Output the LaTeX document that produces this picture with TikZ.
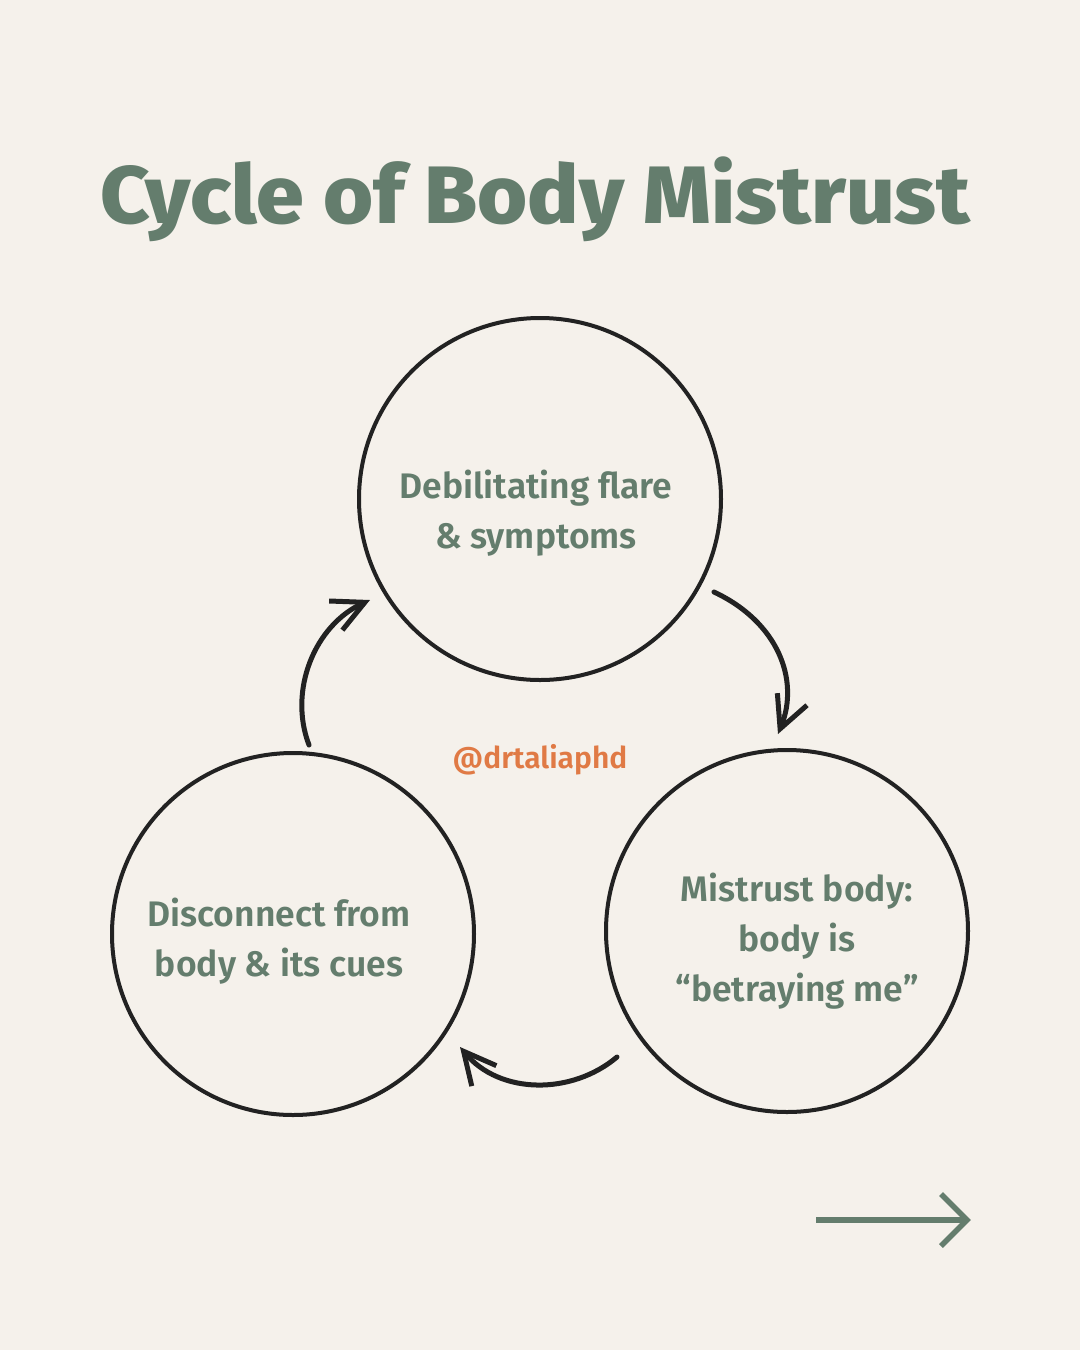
\documentclass[tikz,border=0pt]{standalone}
\usepackage{fontspec}
\usepackage{graphicx}
\usetikzlibrary{arrows.meta}
\newfontfamily\titlefont{Fira Sans}[UprightFont=* ExtraBold]
\newfontfamily\bodyfont{Fira Sans}[UprightFont=* SemiBold]
\definecolor{bgc}{HTML}{F5F1EB}
\definecolor{sage}{HTML}{647D6D}
\definecolor{rust}{HTML}{E07A45}
\definecolor{ink}{HTML}{222222}
\tikzset{
  ring/.style={draw=ink, line width=4pt, circle, minimum size=362pt, inner sep=0pt},
  lbl/.style={text=sage, font=\bodyfont\fontsize{35.5}{50}\selectfont, align=center, inner sep=0pt},
  cyc/.style={draw=ink, line width=5pt, line cap=round, -{Straight Barb[length=32pt,width=32pt,line width=5pt]}},
  nxt/.style={draw=sage, line width=5.5pt}
}
\begin{document}
\begin{tikzpicture}[x=1pt,y=-1pt]
\fill[bgc] (0,0) rectangle (1080,1350);
\useasboundingbox (0,0) rectangle (1080,1350);
\node[anchor=north west, inner sep=0pt, text=sage] (title) at (100,157)
  {\resizebox*{870pt}{85pt}{\titlefont Cycle of Body Mistrust}};
\node[ring] (top) at (540,499) {};
\node[ring] (left) at (293,934) {};
\node[ring] (right) at (787,931) {};
\node[lbl] (toptxt) at (536,513) {Debilitating flare\\\& symptoms};
\node[lbl] (lefttxt) at (279,941) {Disconnect from\\body \& its cues};
\node[lbl] (righttxt) at (797,941) {Mistrust body:\\body is\\“betraying me”};
\node[text=rust, font=\bodyfont\fontsize{30}{36}\selectfont, inner sep=0pt] (handle) at (540,760) {@drtaliaphd};
\coordinate (a1s) at (714,592);
\coordinate (a1e) at (778,734);
\coordinate (a2s) at (617,1057);
\coordinate (a2e) at (460,1047);
\coordinate (a3s) at (309,745);
\coordinate (a3e) at (370,600);
\draw[cyc] (a1s) .. controls (778,622) and (800,680) .. (a1e);
\draw[cyc] (a2s) .. controls (572,1095) and (500,1095) .. (a2e);
\draw[cyc] (a3s) .. controls (288,690) and (315,625) .. (a3e);
\coordinate (ns) at (816,1220);
\coordinate (ne) at (967,1220);
\coordinate (nb1) at (941,1194);
\coordinate (nb2) at (941,1246);
\draw[nxt] (ns) -- (ne);
\draw[nxt, line join=miter] (nb1) -- (ne) -- (nb2);
\end{tikzpicture}
\end{document}
